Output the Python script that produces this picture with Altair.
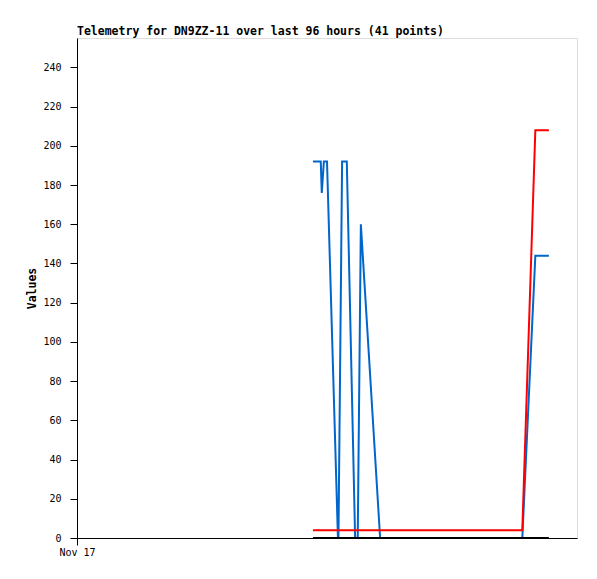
import altair as alt
import pandas as pd

# hours since Nov 17 00:00 (96-hour window)
blue_hours = [45.3, 46.8, 47.0, 47.4, 48.0, 50.1, 50.2, 50.9, 51.8, 53.4, 53.9, 54.5, 58.2, 85.5, 88.0, 90.6]
blue_vals = [192, 192, 176, 192, 192, 0, 0, 192, 192, 0, 0, 160, 0, 0, 144, 144]

red_hours = [45.3, 85.5, 88.0, 90.6]
red_vals = [4, 4, 208, 208]

black_hours = [45.3, 90.6]
black_vals = [0, 0]

def frame(hours, vals):
    return pd.DataFrame({"h": hours, "v": vals})

FONT = "DejaVu Sans Mono"

x_enc = alt.X("h:Q", scale=alt.Scale(domain=[0, 96], nice=False, zero=False),
              axis=alt.Axis(values=[0], labelExpr="'Nov 17'", title=None, grid=False,
                            tickSize=7, labelPadding=2, domainColor="#000000",
                            tickColor="#000000", labelFont=FONT, labelFontSize=10,
                            labelColor="#000000", labelFlush=False))
y_enc = alt.Y("v:Q", scale=alt.Scale(domain=[0, 255], nice=False),
              axis=alt.Axis(values=list(range(0, 241, 20)), title="Values", grid=False,
                            tickSize=7, labelPadding=9, domainColor="#000000",
                            tickColor="#000000", labelFont=FONT, labelFontSize=10,
                            labelColor="#000000", titleFont=FONT, titleFontSize=11.5,
                            titleFontWeight="bold", titleColor="#000000",
                            titleX=-40, titleY=250))

def line(df, color):
    return alt.Chart(df).mark_line(color=color, strokeWidth=2, interpolate="linear").encode(
        x=x_enc, y=y_enc)

chart = alt.layer(
    line(frame(blue_hours, blue_vals), "#0066CC"),
    line(frame(red_hours, red_vals), "#FF0000"),
    line(frame(black_hours, black_vals), "#000000"),
).properties(
    width=500, height=500,
    title=alt.Title("Telemetry for DN9ZZ-11 over last 96 hours (41 points)",
                    anchor="start", frame="group", font=FONT, fontSize=11.5,
                    fontWeight="bold", color="#000000", offset=1),
    autosize=alt.AutoSizeParams(type="none"),
    padding={"left": 69, "top": 30, "right": 10, "bottom": 30},
).configure_view(stroke="#333333", strokeWidth=1).configure(background="#ffffff")

chart.save("out.html", embed_options={"renderer": "svg", "actions": False})
